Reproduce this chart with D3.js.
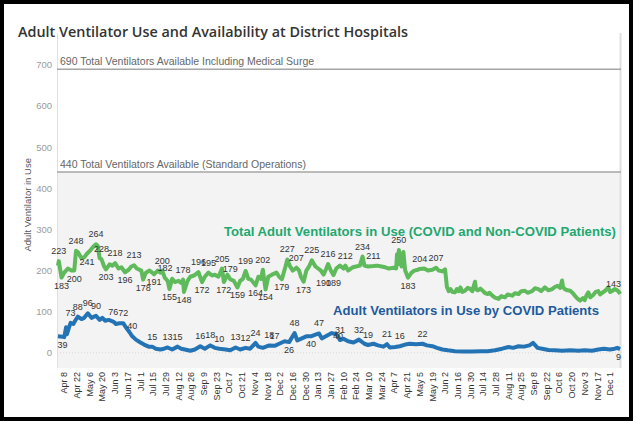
<!DOCTYPE html>
<html><head><meta charset="utf-8">
<script src="https://cdn.jsdelivr.net/npm/d3@7"></script>
<style>body{margin:0;background:#fff}svg{display:block}</style>
</head><body>
<svg id="c" width="633" height="421"></svg>
<script>
// ---------------- DATA ----------------
const titleText = "Adult Ventilator Use and Availability at District Hospitals";
const yAxisTitle = "Adult Ventilator in Use";
const yTicks = [0, 100, 200, 300, 400, 500, 600, 700];
const tickDates = ["2020-04-08","2020-04-22","2020-05-06","2020-05-20","2020-06-03","2020-06-17","2020-07-01","2020-07-15","2020-07-29","2020-08-12","2020-08-26","2020-09-09","2020-09-23","2020-10-07","2020-10-21","2020-11-04","2020-11-18","2020-12-02","2020-12-16","2020-12-30","2021-01-13","2021-01-27","2021-02-10","2021-02-24","2021-03-10","2021-03-24","2021-04-07","2021-04-21","2021-05-05","2021-05-19","2021-06-02","2021-06-16","2021-06-30","2021-07-14","2021-07-28","2021-08-11","2021-08-25","2021-09-08","2021-09-22","2021-10-06","2021-10-20","2021-11-03","2021-11-17","2021-12-01"];

const refValues = [690, 440];
const refLabels = ["690 Total Ventilators Available Including Medical Surge", "440 Total Ventilators Available (Standard Operations)"];

const totalDates = ["2020-04-01","2020-04-02","2020-04-05","2020-04-08","2020-04-12","2020-04-16","2020-04-19","2020-04-21","2020-04-23","2020-04-27","2020-04-30","2020-05-03","2020-05-07","2020-05-10","2020-05-13","2020-05-15","2020-05-17","2020-05-19","2020-05-22","2020-05-24","2020-05-28","2020-05-31","2020-06-03","2020-06-07","2020-06-10","2020-06-14","2020-06-18","2020-06-21","2020-06-24","2020-06-27","2020-07-02","2020-07-04","2020-07-07","2020-07-11","2020-07-14","2020-07-16","2020-07-20","2020-07-23","2020-07-25","2020-07-28","2020-07-31","2020-08-02","2020-08-05","2020-08-08","2020-08-12","2020-08-15","2020-08-17","2020-08-18","2020-08-22","2020-08-25","2020-08-29","2020-09-03","2020-09-07","2020-09-10","2020-09-14","2020-09-18","2020-09-21","2020-09-25","2020-09-29","2020-10-01","2020-10-05","2020-10-08","2020-10-12","2020-10-16","2020-10-19","2020-10-22","2020-10-25","2020-10-28","2020-10-31","2020-11-05","2020-11-08","2020-11-11","2020-11-13","2020-11-16","2020-11-19","2020-11-23","2020-11-28","2020-12-01","2020-12-04","2020-12-08","2020-12-10","2020-12-13","2020-12-16","2020-12-20","2020-12-23","2020-12-25","2020-12-28","2020-12-31","2021-01-03","2021-01-06","2021-01-10","2021-01-13","2021-01-16","2021-01-19","2021-01-22","2021-01-24","2021-01-27","2021-01-30","2021-02-02","2021-02-06","2021-02-10","2021-02-12","2021-02-15","2021-02-20","2021-02-24","2021-02-28","2021-03-03","2021-03-05","2021-03-09","2021-03-15","2021-03-19","2021-03-24","2021-03-28","2021-04-01","2021-04-06","2021-04-09","2021-04-10","2021-04-11","2021-04-12","2021-04-15","2021-04-17","2021-04-19","2021-04-22","2021-04-26","2021-04-29","2021-05-03","2021-05-05","2021-05-10","2021-05-14","2021-05-19","2021-05-23","2021-05-26","2021-05-30","2021-06-02","2021-06-04","2021-06-06","2021-06-08","2021-06-10","2021-06-13","2021-06-15","2021-06-17","2021-06-19","2021-06-21","2021-06-24","2021-06-27","2021-06-30","2021-07-02","2021-07-05","2021-07-06","2021-07-08","2021-07-11","2021-07-14","2021-07-16","2021-07-19","2021-07-21","2021-07-24","2021-07-27","2021-07-31","2021-08-03","2021-08-07","2021-08-10","2021-08-15","2021-08-18","2021-08-22","2021-08-25","2021-08-29","2021-09-01","2021-09-06","2021-09-09","2021-09-13","2021-09-16","2021-09-20","2021-09-24","2021-09-28","2021-10-01","2021-10-04","2021-10-07","2021-10-09","2021-10-10","2021-10-12","2021-10-15","2021-10-18","2021-10-21","2021-10-23","2021-10-26","2021-10-29","2021-11-01","2021-11-03","2021-11-05","2021-11-07","2021-11-09","2021-11-12","2021-11-15","2021-11-18","2021-11-20","2021-11-23","2021-11-26","2021-11-29","2021-12-01","2021-12-03","2021-12-06","2021-12-09","2021-12-11","2021-12-12"];
const totalValues = [212,223,183,195,205,200,200,248,245,230,232,241,250,258,264,260,230,228,210,203,215,212,218,205,208,196,202,210,213,205,200,178,195,200,195,191,200,195,200,182,175,155,180,172,175,170,178,148,175,185,188,196,172,185,195,188,190,185,205,172,190,179,175,159,175,180,199,180,178,164,185,180,202,154,185,190,195,185,179,210,227,210,200,207,200,185,173,200,210,225,210,205,200,190,205,216,200,189,205,212,205,212,200,208,210,212,234,212,210,211,212,210,208,205,207,205,240,215,250,210,245,200,183,195,200,202,204,205,200,202,207,200,198,203,160,150,155,148,147,155,150,159,148,151,158,155,150,173,155,152,156,150,145,143,146,139,134,131,138,135,142,139,145,143,150,151,146,150,157,155,150,159,152,155,160,163,158,176,160,155,152,151,145,139,132,127,133,128,140,147,135,140,148,150,142,147,152,159,148,150,155,152,147,143];

const covidDates = ["2020-04-01","2020-04-06","2020-04-08","2020-04-10","2020-04-11","2020-04-13","2020-04-15","2020-04-18","2020-04-20","2020-04-23","2020-04-27","2020-04-30","2020-05-04","2020-05-08","2020-05-11","2020-05-13","2020-05-17","2020-05-20","2020-05-23","2020-05-27","2020-06-01","2020-06-04","2020-06-08","2020-06-12","2020-06-15","2020-06-19","2020-06-22","2020-06-26","2020-07-01","2020-07-05","2020-07-10","2020-07-14","2020-07-18","2020-07-23","2020-07-27","2020-07-31","2020-08-05","2020-08-11","2020-08-15","2020-08-19","2020-08-25","2020-08-30","2020-09-05","2020-09-10","2020-09-16","2020-09-21","2020-09-26","2020-10-03","2020-10-08","2020-10-14","2020-10-19","2020-10-25","2020-10-30","2020-11-05","2020-11-08","2020-11-13","2020-11-20","2020-11-26","2020-12-01","2020-12-07","2020-12-12","2020-12-18","2020-12-21","2020-12-26","2020-12-31","2021-01-05","2021-01-10","2021-01-14","2021-01-17","2021-01-23","2021-01-28","2021-02-02","2021-02-04","2021-02-06","2021-02-10","2021-02-15","2021-02-21","2021-02-27","2021-03-05","2021-03-09","2021-03-15","2021-03-20","2021-03-26","2021-03-30","2021-04-02","2021-04-08","2021-04-13","2021-04-19","2021-04-24","2021-05-01","2021-05-08","2021-05-13","2021-05-19","2021-05-24","2021-05-30","2021-06-05","2021-06-13","2021-06-22","2021-07-02","2021-07-11","2021-07-19","2021-07-27","2021-08-04","2021-08-11","2021-08-16","2021-08-22","2021-08-28","2021-09-03","2021-09-07","2021-09-12","2021-09-17","2021-09-24","2021-10-01","2021-10-09","2021-10-18","2021-10-27","2021-11-03","2021-11-11","2021-11-18","2021-11-24","2021-12-01","2021-12-06","2021-12-09","2021-12-12"];
const covidValues = [40,39,38,62,45,60,73,70,78,88,82,85,96,85,88,90,80,85,78,80,76,70,72,72,62,50,40,32,25,20,15,15,10,8,10,13,8,15,10,8,5,8,16,10,18,12,10,8,6,13,8,12,10,24,15,12,18,17,22,28,26,48,30,35,40,40,44,47,35,42,48,45,40,31,34,28,25,32,22,19,22,18,15,21,13,14,16,20,22,21,22,18,16,12,8,6,4,3,3,4,4,6,10,14,12,16,15,18,24,12,10,7,6,5,6,5,6,5,8,10,8,10,12,9];

// data labels: date, value, placement (a = above, b = below, m = on line)
const totalLabelDates = ["2020-04-02","2020-04-05","2020-04-19","2020-04-21","2020-05-03","2020-05-13","2020-05-19","2020-05-24","2020-06-03","2020-06-14","2020-06-24","2020-07-04","2020-07-16","2020-07-25","2020-07-28","2020-08-02","2020-08-17","2020-08-18","2020-09-03","2020-09-07","2020-09-14","2020-09-29","2020-10-01","2020-10-08","2020-10-16","2020-10-25","2020-11-05","2020-11-13","2020-11-16","2020-12-04","2020-12-10","2020-12-20","2020-12-28","2021-01-06","2021-01-19","2021-01-24","2021-01-30","2021-02-12","2021-03-03","2021-03-15","2021-04-12","2021-04-22","2021-05-05","2021-05-23","2021-12-12"];
const totalLabelValues = [223,183,200,248,241,264,228,203,218,196,213,178,191,200,182,155,178,148,196,172,195,205,172,179,159,199,164,202,154,179,227,207,173,225,190,216,189,212,234,211,250,183,204,207,143];
const totalLabelPos = ["a","b","b","a","b","a","a","b","a","b","a","b","b","a","a","b","a","b","a","b","a","a","b","a","b","a","b","a","b","b","a","a","b","a","b","a","b","a","a","a","a","b","a","a","a"];

const covidLabelDates = ["2020-04-06","2020-04-15","2020-04-23","2020-05-04","2020-05-13","2020-06-01","2020-06-12","2020-06-22","2020-07-14","2020-07-31","2020-08-11","2020-09-05","2020-09-16","2020-09-26","2020-10-14","2020-10-25","2020-11-05","2020-11-20","2020-11-26","2020-12-12","2020-12-18","2021-01-05","2021-01-14","2021-02-04","2021-02-06","2021-02-27","2021-03-09","2021-03-30","2021-04-13","2021-05-08","2021-12-12"];
const covidLabelValues = [39,73,88,96,90,76,72,40,15,13,15,16,18,10,13,12,24,18,17,26,48,40,47,40,31,32,19,21,16,22,9];
const covidLabelPos = ["b","a","a","a","a","a","a","a","a","a","a","a","a","a","a","a","a","a","a","b","a","b","a","m","a","a","a","a","a","a","b"];

const totalName = "Total Adult Ventilators in Use (COVID and Non-COVID Patients)";
const covidName = "Adult Ventilators in Use by COVID Patients";

// ---------------- DRAW ----------------
const parse = d3.timeParse("%Y-%m-%d");
const svg = d3.select("#c");
const W = 633, H = 421;
const plot = {left: 57, right: 621, top: 33, bottom: 368};

const x = d3.scaleTime().domain([parse("2020-03-31"), parse("2021-12-13")]).range([plot.left, plot.right]);
const y = d3.scaleLinear().domain([-37, 778]).range([plot.bottom, plot.top]);

svg.append("rect").attr("width", W).attr("height", H).attr("fill", "#fff");

// shaded band below standard capacity
svg.append("rect").attr("x", plot.left).attr("y", y(440)).attr("width", plot.right - plot.left)
  .attr("height", plot.bottom - y(440)).attr("fill", "#f3f3f3");

// plot side borders
svg.append("line").attr("x1", plot.left + 0.5).attr("x2", plot.left + 0.5).attr("y1", plot.top).attr("y2", plot.bottom).attr("stroke", "#e0e0e0");
svg.append("line").attr("x1", plot.right - 0.5).attr("x2", plot.right - 0.5).attr("y1", plot.top).attr("y2", plot.bottom).attr("stroke", "#e0e0e0").attr("stroke-width", 2);

// zero line
svg.append("line").attr("x1", plot.left).attr("x2", plot.right).attr("y1", y(0)).attr("y2", y(0))
  .attr("stroke", "#d8d8d8").attr("stroke-dasharray", "1,2");

// reference lines
refValues.forEach((v, i) => {
  svg.append("line").attr("x1", plot.left).attr("x2", plot.right).attr("y1", y(v)).attr("y2", y(v))
    .attr("stroke", "#a6a6a6").attr("stroke-width", 1.5);
  svg.append("text").attr("x", plot.left + 3).attr("y", y(v) - 4)
    .attr("font-family", "Liberation Sans, Arial, sans-serif").attr("font-size", 10.5)
    .attr("fill", "#666").text(refLabels[i]);
});

// y axis
const yAxis = svg.append("g");
yTicks.forEach(t => {
  yAxis.append("text").attr("x", 52).attr("y", y(t)).attr("dy", "0.35em").attr("text-anchor", "end")
    .attr("font-family", "Liberation Sans, Arial, sans-serif").attr("font-size", 9.5).attr("fill", "#9a9a9a").text(t);
});
svg.append("text").attr("transform", `translate(28,${y(360)}) rotate(-90)`).attr("text-anchor", "middle")
  .attr("dy", "0.35em").attr("font-family", "Liberation Sans, Arial, sans-serif").attr("font-size", 9.5)
  .attr("fill", "#555").text(yAxisTitle);

// x axis labels
const fmt = d3.timeFormat("%b %-d");
tickDates.forEach(s => {
  const d = parse(s);
  svg.append("text").attr("transform", `translate(${x(d)},372) rotate(-90)`).attr("text-anchor", "end")
    .attr("dy", "0.35em").attr("font-family", "Liberation Sans, Arial, sans-serif").attr("font-size", 9)
    .attr("fill", "#333").text(fmt(d));
});

// lines
const line = d3.line().x(d => x(d[0])).y(d => y(d[1]));
const totalSeries = totalDates.map((s, i) => [parse(s), totalValues[i]]);
const covidSeries = covidDates.map((s, i) => [parse(s), covidValues[i]]);
svg.append("path").attr("d", line(totalSeries)).attr("fill", "none").attr("stroke", "#5fba5b")
  .attr("stroke-width", 4).attr("stroke-linejoin", "round");
svg.append("path").attr("d", line(covidSeries)).attr("fill", "none").attr("stroke", "#2474b5")
  .attr("stroke-width", 4).attr("stroke-linejoin", "round");

// data labels
function drawLabels(dates, vals, pos) {
  dates.forEach((s, i) => {
    const d = parse(s);
    const py = y(vals[i]);
    const off = pos[i] === "a" ? -7 : pos[i] === "b" ? 11 : 3;
    const last = i === dates.length - 1;
    svg.append("text").attr("x", x(d) + (last ? 1 : 0)).attr("y", py + off)
      .attr("text-anchor", last ? "end" : "middle")
      .attr("font-family", "Liberation Sans, Arial, sans-serif").attr("font-size", 9)
      .attr("fill", "#333").text(vals[i]);
  });
}
drawLabels(totalLabelDates, totalLabelValues, totalLabelPos);
drawLabels(covidLabelDates, covidLabelValues, covidLabelPos);

// series annotations
svg.append("text").attr("x", 224).attr("y", 236).attr("font-family", "Liberation Sans, Arial, sans-serif")
  .attr("font-weight", "bold").attr("font-size", 12.5).attr("fill", "#1fa870")
  .attr("textLength", 392).attr("lengthAdjust", "spacingAndGlyphs").text(totalName);
svg.append("text").attr("x", 333).attr("y", 315).attr("font-family", "Liberation Sans, Arial, sans-serif")
  .attr("font-weight", "bold").attr("font-size", 12.5).attr("fill", "#1e5b9e")
  .attr("textLength", 266).attr("lengthAdjust", "spacingAndGlyphs").text(covidName);

// title
svg.append("text").attr("x", 18).attr("y", 37).attr("font-family", "Open Sans, sans-serif")
  .attr("font-weight", 600).attr("font-size", 15).attr("fill", "#333")
  .attr("textLength", 390).attr("lengthAdjust", "spacingAndGlyphs").text(titleText);

// outer border
svg.append("rect").attr("x", 2).attr("y", 2).attr("width", 629).attr("height", 417)
  .attr("fill", "none").attr("stroke", "#000").attr("stroke-width", 4);
</script>
</body></html>
